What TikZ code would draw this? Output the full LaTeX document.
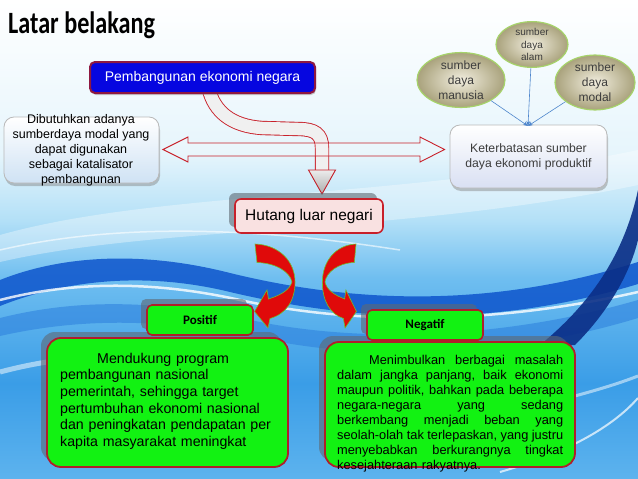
\documentclass[tikz,border=0pt]{standalone}
\usepackage{fontspec}
\usepackage{graphicx}
\setmainfont{Liberation Sans}
\newfontfamily\titlefont{Carlito}
\usetikzlibrary{shapes.geometric,arrows.meta,shadows}
\definecolor{bgA}{HTML}{E6F5FC}
\definecolor{bgB}{HTML}{B3E0F7}
\definecolor{bgC}{HTML}{6FBEF0}
\definecolor{bgD}{HTML}{3A9DE7}
\definecolor{bgE}{HTML}{5DB3EE}
\definecolor{waveA}{HTML}{0E55CC}
\definecolor{waveB}{HTML}{2F82DE}
\definecolor{navyW}{HTML}{0B2E86}
\definecolor{boxred}{HTML}{B01E2A}
\definecolor{lgreen}{HTML}{12F212}
\definecolor{pemblue}{HTML}{0606E0}
\definecolor{pemborder}{HTML}{8E1840}
\definecolor{hutpink}{HTML}{F9E1E1}
\definecolor{arrred}{HTML}{E00A0A}
\definecolor{arredge}{HTML}{6FC030}
\definecolor{ellin}{HTML}{F2EEDF}
\definecolor{ellout}{HTML}{A9A27C}
\definecolor{elledge}{HTML}{A6D36A}
\definecolor{feedblue}{HTML}{4E86CC}
\definecolor{txtgray}{HTML}{3C3C3C}
\definecolor{paleblue}{HTML}{CFE2F4}
\definecolor{palepurple}{HTML}{D9E0F3}
\definecolor{shadowc}{HTML}{5E6973}
\definecolor{outred}{HTML}{C8202A}
\pgfdeclareverticalshading{bgshade}{100bp}{color(0bp)=(bgE); color(25bp)=(bgE); color(35bp)=(bgD); color(46bp)=(bgC); color(52bp)=(bgB); color(59bp)=(bgA); color(75bp)=(white); color(100bp)=(white)}
\begin{document}
\begin{tikzpicture}[x=1pt,y=-1pt,
  every node/.style={inner sep=0pt},
  tagshadow/.style={drop shadow={shadow xshift=-6pt,shadow yshift=6pt,opacity=.6,fill=shadowc}},
  greenbox/.style={draw=boxred,line width=1.8pt,fill=lgreen,rounded corners=14pt,tagshadow},
  tagbox/.style={draw=boxred,line width=1.6pt,fill=lgreen,rounded corners=5pt,tagshadow,
     font=\titlefont\bfseries\fontsize{13}{15}\selectfont},
  palebox/.style={draw=gray!55,line width=.8pt,rounded corners=10pt,top color=white,
     drop shadow={shadow xshift=1pt,shadow yshift=-3pt,opacity=.45,fill=gray}},
  ell/.style={ellipse,draw=elledge,line width=1.2pt,inner color=ellin,outer color=ellout,
     align=center,text=txtgray},
  feed/.style={draw=feedblue,line width=.6pt,-{Stealth[length=5pt,width=4pt]}},
  curvearr/.style={fill=arrred,draw=arredge,line width=.6pt},
  gtext/.style={anchor=base west,align=left}]
\useasboundingbox (0,0) rectangle (638,479);
% ---------- background ----------
\fill[shading=bgshade] (0,0) rectangle (638,479);
\fill[white,opacity=.35] (0,235) .. controls (160,190) and (400,200) .. (638,150) -- (638,185) .. controls (400,235) and (160,225) .. (0,262) -- cycle;
\fill[waveA,opacity=.85] (0,280) .. controls (60,256) and (140,250) .. (230,273) .. controls (340,300) and (480,312) .. (638,262) -- (638,284) .. controls (480,332) and (340,318) .. (230,292) .. controls (140,270) and (60,282) .. (0,306) -- cycle;
\fill[waveB,opacity=.6] (0,318) .. controls (80,298) and (160,300) .. (260,322) .. controls (360,342) and (500,340) .. (638,300) -- (638,318) .. controls (500,360) and (360,360) .. (260,338) .. controls (160,318) and (80,318) .. (0,336) -- cycle;
\draw[white,opacity=.8,line width=2.5pt] (0,300) .. controls (70,282) and (150,280) .. (240,300) .. controls (330,320) and (470,330) .. (638,292);
\draw[white,opacity=.6,line width=1.5pt] (0,250) .. controls (120,222) and (260,228) .. (400,250);
\draw[white,opacity=.5,line width=5pt] (0,372) .. controls (60,356) and (120,352) .. (200,360);
\fill[navyW,opacity=.9] (638,190) .. controls (625,250) and (595,300) .. (540,345) -- (575,345) .. controls (615,305) and (632,265) .. (638,240) -- cycle;
\draw[white,opacity=.7,line width=2pt] (500,472) .. controls (560,455) and (610,430) .. (638,398);
\draw[white,opacity=.5,line width=3pt] (560,400) .. controls (590,392) and (615,385) .. (638,376);
% ---------- title ----------
\node[anchor=base west,font=\titlefont\bfseries\fontsize{31}{31}\selectfont] (title) at (8,33) {\scalebox{0.78}[1]{Latar belakang}};
% ---------- top nodes ----------
\node[palebox,bottom color=paleblue,minimum width=155pt,minimum height=66pt] (need) at (81.5,150) {};
\node[align=center,font=\fontsize{12.5}{15}\selectfont] (needtxt) at (81,150.5) {Dibutuhkan adanya\\sumberdaya modal yang\\dapat digunakan\\sebagai katalisator\\pembangunan};
\node[palebox,bottom color=palepurple,minimum width=157pt,minimum height=63pt,align=center,
      text=txtgray,font=\fontsize{12.2}{15}\selectfont] (ket) at (528.5,156.5) {Keterbatasan sumber\\daya ekonomi produktif};
\node[ell,minimum width=88pt,minimum height=54pt,font=\fontsize{12}{15}\selectfont] (man) at (461,80) {sumber\\daya\\manusia};
\node[ell,minimum width=72pt,minimum height=45pt,font=\fontsize{10}{12.5}\selectfont] (alam) at (532,44.5) {sumber\\daya\\alam};
\node[ell,minimum width=80pt,minimum height=51pt,font=\fontsize{12}{15}\selectfont] (mod) at (595,82.5) {sumber\\daya\\modal};
\coordinate (conv) at (528,126);
\draw[feed] (man) -- (conv);
\draw[feed] (alam) -- (conv);
\draw[feed] (mod) -- (conv);
% ---------- curved band from Pembangunan to Hutang ----------
\coordinate (bandstart) at (208.5,88);
\coordinate (bandend) at (322,171);
\coordinate (bandtip) at (322,194);
\draw[draw=outred,line width=.9pt,double=gray!12,double distance=12.5pt]
  (bandstart) .. controls (214,112) and (232,126) .. (262,128) -- (298,129)
  .. controls (315,129) and (322,134) .. (322,148) -- (bandend);
\filldraw[draw=outred,line width=.9pt,top color=gray!15,bottom color=gray!65]
  (308.5,170) -- (335.5,170) -- (bandtip) -- cycle;
% ---------- double arrow ----------
\coordinate (datipL) at (163,149.5);
\coordinate (datipR) at (444.5,149.5);
\draw[outred,line width=.9pt,fill=white,fill opacity=.15]
  (datipL) -- (188,137) -- (188,143) -- (420,143) -- (420,137) -- (datipR)
  -- (420,162) -- (420,156) -- (188,156) -- (188,162) -- cycle;
% ---------- Pembangunan box ----------
\node[draw=pemborder,line width=2pt,fill=pemblue,rounded corners=5pt,
      minimum width=225pt,minimum height=31pt,text=white,font=\fontsize{14}{16}\selectfont,
      drop shadow={shadow xshift=1pt,shadow yshift=-2pt,opacity=.4,fill=gray}] (pem) at (202.5,77.5) {Pembangunan ekonomi negara};
% ---------- Hutang box ----------
\node[draw=outred,line width=1.6pt,fill=hutpink,rounded corners=6pt,minimum width=148pt,minimum height=34pt,
      font=\fontsize{15.5}{18}\selectfont,tagshadow] (hut) at (309,216) {Hutang luar negari};
% ---------- curved red arrows ----------
\filldraw[curvearr] (255,244) .. controls (280,245) and (295,262) .. (295,282)
  .. controls (295,301) and (286,314) .. (270,318.5)
  -- (268,328) -- (254.5,311.5) -- (267,290) -- (268.5,299)
  .. controls (281,295) and (289.5,290) .. (292,282)
  .. controls (290,272) and (276,263) .. (257,262.5) -- cycle;
\begin{scope}[shift={(356,0)},xscale=-0.84,shift={(-255,0)}]
\filldraw[curvearr] (255,244) .. controls (280,245) and (295,262) .. (295,282)
  .. controls (295,301) and (286,314) .. (270,318.5)
  -- (268,328) -- (254.5,311.5) -- (267,290) -- (268.5,299)
  .. controls (281,295) and (289.5,290) .. (292,282)
  .. controls (290,272) and (276,263) .. (257,262.5) -- cycle;
\end{scope}
% ---------- green boxes ----------
\node[greenbox,minimum width=241pt,minimum height=129pt] (posbox) at (167.5,402.5) {};
\node[greenbox,minimum width=250pt,minimum height=125pt] (negbox) at (450,404.5) {};
\node[tagbox,minimum width=106pt,minimum height=30pt] (pos) at (200,320) {Positif};
\node[tagbox,minimum width=116pt,minimum height=30pt] (neg) at (425,325) {Negatif};
\node[gtext,text width=215pt,font=\fontsize{14.2}{16.7}\selectfont] (postxt) at (60,363)
  {\hspace*{37pt}Mendukung program\\pembangunan nasional\\pemerintah, sehingga target\\pertumbuhan ekonomi nasional\\dan peningkatan pendapatan per\\kapita masyarakat meningkat};
\node[gtext,text width=226pt,font=\fontsize{12.8}{15}\selectfont] (negtxt) at (337,364.5)
  {\hspace*{32pt}\makebox[194pt][l]{Menimbulkan\hfill berbagai\hfill masalah}\\
   \makebox[226pt][l]{dalam\hfill jangka\hfill panjang,\hfill baik\hfill ekonomi}\\
   \makebox[226pt][l]{maupun\hfill politik,\hfill bahkan\hfill pada\hfill beberapa}\\
   \makebox[226pt][l]{negara-negara\hfill yang\hfill sedang}\\
   \makebox[226pt][l]{berkembang\hfill menjadi\hfill beban\hfill yang}\\
   \makebox[226pt][l]{seolah-olah\hfill tak\hfill terlepaskan,\hfill yang\hfill justru}\\
   \makebox[226pt][l]{menyebabkan\hfill berkurangnya\hfill tingkat}\\
   kesejahteraan rakyatnya.};
\end{tikzpicture}
\end{document}
